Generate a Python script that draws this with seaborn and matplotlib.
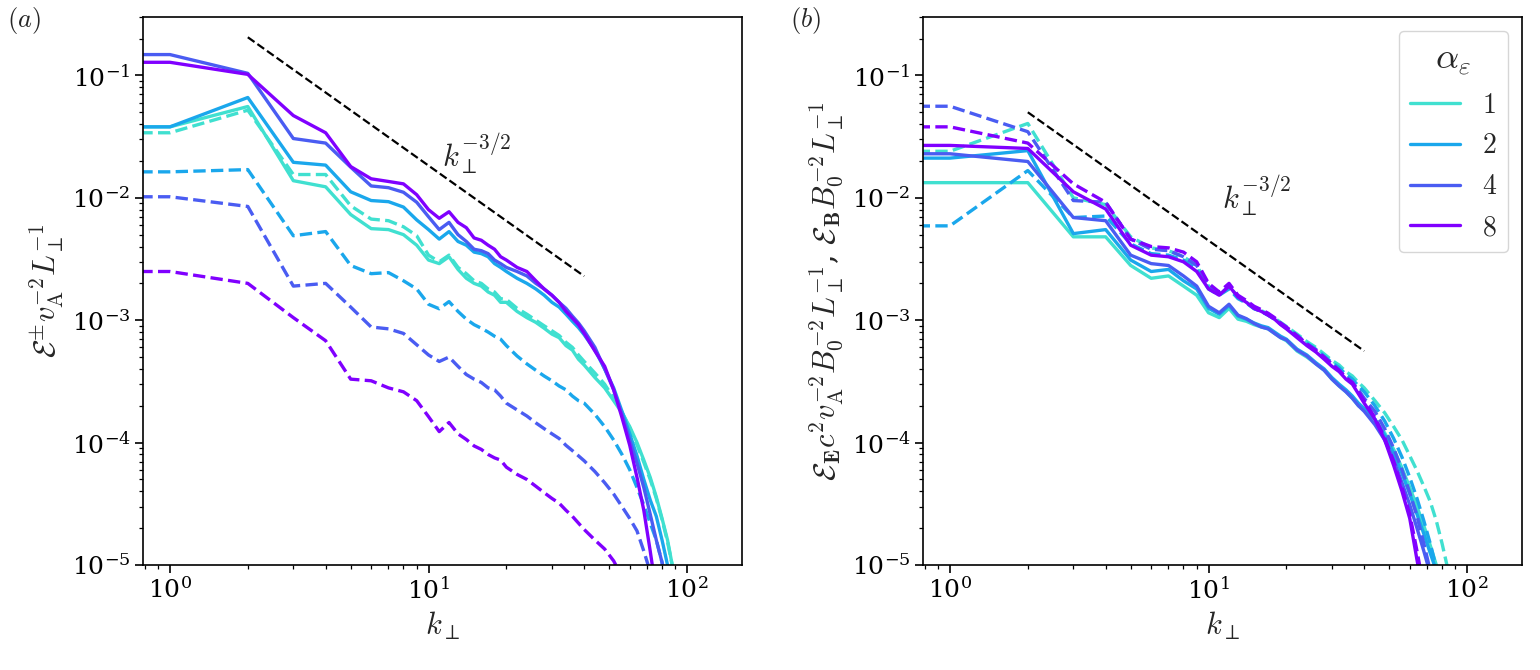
import numpy as np
import pandas as pd
import matplotlib
matplotlib.use('Agg')
import matplotlib.pyplot as plt
import seaborn as sns
from matplotlib.lines import Line2D

# wavenumber grid (k=0 entry reproduces the flat run to the left edge)
k = [0, 1, 2, 3, 4, 5, 6, 7, 8, 9, 10, 11, 12, 13, 14, 15, 16, 17, 18, 19, 20,
     22, 24, 26, 28, 30, 32, 34, 36, 38, 40,
     44, 48, 52, 56, 60, 64, 68, 72, 76, 80, 84, 88, 92]

alphas = ['1', '2', '4', '8']
colors = {'1': '#40e0d0', '2': '#1aa7ec', '4': '#4a5cf2', '8': '#8000ff'}

# (a) solid: E^+ ; dashed: E^-
a_solid_1 = [0.038, 0.038, 0.0557, 0.0138, 0.0123, 0.0073, 0.0056, 0.0055, 0.0050, 0.0041, 0.0031,
             0.0029, 0.0033, 0.0026, 0.0022, 0.0020, 0.0019, 0.0017, 0.0016, 0.0014, 0.0014,
             0.00118, 0.00105, 0.00096, 0.00086, 0.00077, 0.00072, 0.00062, 0.00057, 0.00048, 0.00043,
             0.00034, 0.00028, 0.00022, 0.000175, 0.000135, 0.0001, 7.2e-5, 5.2e-5, 3.6e-5, 2.4e-5,
             1.6e-5, 9.5e-6, 5.5e-6]
a_solid_2 = [0.038, 0.038, 0.066, 0.0195, 0.0185, 0.0112, 0.0095, 0.0093, 0.0084, 0.0066, 0.0055,
             0.0046, 0.0053, 0.0044, 0.0041, 0.0036, 0.0035, 0.0033, 0.0029, 0.0027, 0.0025,
             0.0022, 0.0020, 0.0018, 0.0016, 0.0014, 0.00128, 0.00112, 0.00098, 0.00087, 0.00076,
             0.00057, 0.00040, 0.00028, 0.00018, 0.000118, 7.8e-5, 5.0e-5, 3.4e-5, 2.5e-5, 1.6e-5,
             1.0e-5, 5.5e-6, 2.5e-6]
a_solid_4 = [0.148, 0.148, 0.104, 0.0305, 0.028, 0.0178, 0.0125, 0.0121, 0.0111, 0.0092, 0.0070,
             0.0055, 0.0063, 0.0050, 0.0044, 0.0038, 0.0037, 0.0035, 0.0031, 0.0029, 0.0027,
             0.0025, 0.0023, 0.0020, 0.0018, 0.0016, 0.0014, 0.00125, 0.00108, 0.00095, 0.00082,
             0.00060, 0.00040, 0.00027, 0.00017, 0.000105, 6.8e-5, 4.3e-5, 2.6e-5, 1.6e-5, 1.05e-5,
             6e-6, 3e-6, 1.2e-6]
a_solid_8 = [0.128, 0.128, 0.102, 0.047, 0.034, 0.018, 0.0143, 0.0136, 0.0130, 0.0106, 0.0080,
             0.0068, 0.0077, 0.0063, 0.0057, 0.0047, 0.0045, 0.0041, 0.0038, 0.0033, 0.0031,
             0.0027, 0.0025, 0.0021, 0.0018, 0.0016, 0.0014, 0.00118, 0.00104, 0.00092, 0.00078,
             0.00056, 0.00042, 0.00027, 0.00016, 9.5e-5, 5.2e-5, 2.8e-5, 1.3e-5, 6e-6, 2.5e-6,
             1e-6, 4e-7, 1.5e-7]
a_dash_1 = [0.034, 0.034, 0.052, 0.0155, 0.0155, 0.0086, 0.0067, 0.0065, 0.0058, 0.0049, 0.0034,
            0.0030, 0.0034, 0.0027, 0.0024, 0.0021, 0.0020, 0.0018, 0.0017, 0.0015, 0.00148,
            0.00125, 0.00112, 0.00100, 0.00090, 0.00082, 0.00075, 0.00066, 0.00060, 0.00052, 0.00046,
            0.00037, 0.00030, 0.00023, 0.000178, 0.000132, 9.6e-5, 6.9e-5, 5.0e-5, 3.5e-5, 2.35e-5,
            1.55e-5, 9.5e-6, 5.5e-6]
a_dash_2 = [0.0163, 0.0163, 0.0170, 0.0049, 0.0053, 0.0028, 0.0024, 0.00245, 0.0021, 0.0018, 0.00135,
            0.00124, 0.00142, 0.00118, 0.00102, 0.00092, 0.00086, 0.00080, 0.00074, 0.00070, 0.00062,
            0.00051, 0.00044, 0.00039, 0.00035, 0.00032, 0.00029, 0.00027, 0.00024, 0.00022, 0.00021,
            0.00017, 0.000135, 0.000105, 8.0e-5, 6.0e-5, 4.3e-5, 3.1e-5, 2.2e-5, 1.6e-5, 1.05e-5,
            6.5e-6, 4e-6, 2e-6]
a_dash_4 = [0.0102, 0.0102, 0.0085, 0.0019, 0.0020, 0.00128, 0.00088, 0.00085, 0.00078, 0.00063, 0.00052,
            0.00046, 0.00050, 0.00042, 0.00036, 0.00033, 0.00031, 0.00028, 0.00027, 0.00024, 0.00021,
            0.000185, 0.000165, 0.000145, 0.00013, 0.000118, 0.000108, 9.5e-5, 8.6e-5, 7.8e-5, 7.1e-5,
            5.8e-5, 4.7e-5, 3.8e-5, 3.0e-5, 2.4e-5, 1.9e-5, 1.3e-5, 8.8e-6, 5.5e-6, 3.5e-6,
            2e-6, 1.1e-6, 6e-7]
a_dash_8 = [0.0025, 0.0025, 0.0020, 0.00105, 0.00068, 0.00033, 0.00032, 0.00028, 0.00026, 0.00022, 0.000163,
            0.000123, 0.000146, 0.000118, 0.000106, 9.4e-5, 8.8e-5, 8.0e-5, 7.5e-5, 7.2e-5, 6.3e-5,
            5.5e-5, 5.0e-5, 4.4e-5, 3.9e-5, 3.5e-5, 3.2e-5, 2.8e-5, 2.5e-5, 2.2e-5, 1.95e-5,
            1.6e-5, 1.35e-5, 1.08e-5, 8.0e-6, 5.8e-6, 4e-6, 2.7e-6, 1.8e-6, 1.2e-6, 8e-7,
            5e-7, 3e-7, 2e-7]

# (b) solid: E_E ; dashed: E_B
b_solid_1 = [0.0133, 0.0133, 0.0133, 0.0048, 0.0048, 0.0028, 0.0022, 0.0023, 0.0019, 0.0016, 0.00115,
             0.00105, 0.00125, 0.00102, 0.00098, 0.00092, 0.00088, 0.00085, 0.00078, 0.00072, 0.00068,
             0.00056, 0.00050, 0.00044, 0.00039, 0.00033, 0.00029, 0.00026, 0.00023, 0.00020, 0.000185,
             0.000155, 0.00012, 8.8e-5, 6.2e-5, 4.3e-5, 3.0e-5, 2.1e-5, 1.45e-5, 1.0e-5, 6.5e-6,
             4e-6, 2.5e-6, 1.5e-6]
b_solid_2 = [0.0211, 0.0211, 0.0243, 0.0051, 0.0055, 0.0031, 0.0025, 0.0026, 0.0021, 0.0018, 0.00125,
             0.00112, 0.00132, 0.00108, 0.00102, 0.00095, 0.00090, 0.00087, 0.00080, 0.00074, 0.00070,
             0.00058, 0.00052, 0.00045, 0.00040, 0.00034, 0.00030, 0.00027, 0.00024, 0.00021, 0.00019,
             0.000155, 0.000115, 8.2e-5, 5.6e-5, 3.8e-5, 2.6e-5, 1.8e-5, 1.25e-5, 9e-6, 6e-6,
             4e-6, 2.5e-6, 1.5e-6]
b_solid_4 = [0.0229, 0.0229, 0.0198, 0.0069, 0.0065, 0.0034, 0.0029, 0.0028, 0.0023, 0.0019, 0.0013,
             0.00115, 0.00135, 0.0011, 0.00103, 0.00094, 0.00088, 0.00085, 0.00078, 0.00072, 0.00069,
             0.00057, 0.00051, 0.00044, 0.00039, 0.00033, 0.00029, 0.00026, 0.00023, 0.00020, 0.00018,
             0.00014, 0.000105, 7.2e-5, 4.7e-5, 3.1e-5, 2.0e-5, 1.3e-5, 8.5e-6, 5.5e-6, 3.5e-6,
             2.2e-6, 1.4e-6, 9e-7]
b_solid_8 = [0.0268, 0.0268, 0.0253, 0.0112, 0.0081, 0.0041, 0.0034, 0.0033, 0.0030, 0.0025, 0.0018,
             0.0016, 0.0019, 0.00155, 0.0014, 0.00125, 0.00118, 0.0011, 0.00102, 0.00092, 0.00085,
             0.00072, 0.00062, 0.00055, 0.00048, 0.00042, 0.00038, 0.00033, 0.00030, 0.00025, 0.00021,
             0.000155, 0.000105, 6.5e-5, 4.0e-5, 2.4e-5, 1.1e-5, 5.5e-6, 2.8e-6, 1.4e-6, 7e-7,
             3.5e-7, 1.8e-7, 1e-7]
b_dash_1 = [0.024, 0.024, 0.0405, 0.0100, 0.0088, 0.0048, 0.0039, 0.0037, 0.0033, 0.0028, 0.0019,
            0.0016, 0.0019, 0.00155, 0.0014, 0.00126, 0.0012, 0.00112, 0.00104, 0.00096, 0.00089,
            0.00077, 0.00067, 0.00060, 0.00053, 0.00047, 0.00043, 0.00038, 0.00035, 0.00031, 0.00028,
            0.00022, 0.000175, 0.000135, 0.000105, 7.8e-5, 5.9e-5, 4.4e-5, 3.3e-5, 2.3e-5, 1.5e-5,
            9.5e-6, 6e-6, 3.5e-6]
b_dash_2 = [0.0059, 0.0059, 0.0167, 0.0069, 0.0071, 0.0042, 0.0035, 0.0034, 0.0031, 0.0026, 0.0018,
            0.0016, 0.0018, 0.0015, 0.00138, 0.00124, 0.00118, 0.0011, 0.00102, 0.00094, 0.00087,
            0.00075, 0.00065, 0.00058, 0.00051, 0.00045, 0.00041, 0.00036, 0.00033, 0.00029, 0.00026,
            0.00020, 0.00015, 0.000108, 7.6e-5, 5.2e-5, 3.5e-5, 2.3e-5, 1.5e-5, 9.5e-6, 6e-6,
            3.8e-6, 2.3e-6, 1.4e-6]
b_dash_4 = [0.056, 0.056, 0.0347, 0.0095, 0.0092, 0.0046, 0.0038, 0.0037, 0.0033, 0.0028, 0.0019,
            0.0016, 0.0019, 0.00155, 0.0014, 0.00125, 0.00118, 0.0011, 0.00102, 0.00093, 0.00086,
            0.00074, 0.00063, 0.00056, 0.00049, 0.00043, 0.00039, 0.00034, 0.00031, 0.00027, 0.00023,
            0.00018, 0.00013, 9.0e-5, 6.0e-5, 3.9e-5, 2.5e-5, 1.5e-5, 9e-6, 5.5e-6, 3.3e-6,
            2e-6, 1.2e-6, 7e-7]
b_dash_8 = [0.038, 0.038, 0.028, 0.013, 0.0092, 0.0046, 0.0040, 0.0039, 0.0036, 0.0030, 0.0020,
            0.0017, 0.0020, 0.0016, 0.00145, 0.0013, 0.00122, 0.00114, 0.00105, 0.00095, 0.00088,
            0.00075, 0.00064, 0.00057, 0.00050, 0.00044, 0.00039, 0.00034, 0.00031, 0.00026, 0.00022,
            0.00016, 0.00011, 7.0e-5, 4.3e-5, 2.6e-5, 1.3e-5, 6.5e-6, 3.3e-6, 1.7e-6, 8.5e-7,
            4e-7, 2e-7, 1e-7]

# k_perp^{-3/2} guide lines
ref_k = [2, 40]
ref_a = [0.205, 2.29e-3]
ref_b = [0.050, 5.6e-4]


def long_frame(solid, dashed):
    parts = []
    for a, vals in zip(alphas, solid):
        parts.append(pd.DataFrame({'k': k, 'E': vals, 'alpha': a, 'kind': 'solid'}))
    for a, vals in zip(alphas, dashed):
        parts.append(pd.DataFrame({'k': k, 'E': vals, 'alpha': a, 'kind': 'dashed'}))
    return pd.concat(parts, ignore_index=True)


df_a = long_frame([a_solid_1, a_solid_2, a_solid_4, a_solid_8],
                  [a_dash_1, a_dash_2, a_dash_4, a_dash_8])
df_b = long_frame([b_solid_1, b_solid_2, b_solid_4, b_solid_8],
                  [b_dash_1, b_dash_2, b_dash_4, b_dash_8])

sns.set_style('ticks')
plt.rcParams['font.family'] = ['DejaVu Serif']
plt.rcParams['mathtext.fontset'] = 'cm'
plt.rcParams['axes.linewidth'] = 1.2
plt.rcParams['axes.edgecolor'] = 'black'
for ax_name in ['xtick', 'ytick']:
    plt.rcParams[ax_name + '.major.size'] = 5.5
    plt.rcParams[ax_name + '.minor.size'] = 3
    plt.rcParams[ax_name + '.major.width'] = 1.2
    plt.rcParams[ax_name + '.minor.width'] = 0.9
    plt.rcParams[ax_name + '.labelsize'] = 18
    plt.rcParams[ax_name + '.color'] = 'black'

fig = plt.figure(figsize=(15.4, 6.7), dpi=100)
ax1 = fig.add_axes([0.0929, 0.1567, 0.3889, 0.8179])
ax2 = fig.add_axes([0.5994, 0.1567, 0.3889, 0.8179])

for ax, df, ref in [(ax1, df_a, ref_a), (ax2, df_b, ref_b)]:
    sns.lineplot(data=df, x='k', y='E', hue='alpha', style='kind',
                 hue_order=alphas, style_order=['solid', 'dashed'],
                 palette=colors, dashes={'solid': '', 'dashed': (3.7, 1.6)},
                 linewidth=2.4, estimator=None, sort=False, legend=False, ax=ax)
    sns.lineplot(x=ref_k, y=ref, color='black', linewidth=1.6, linestyle='--', ax=ax)
    ax.set_xscale('log')
    ax.set_yscale('log')
    ax.set_xlim(0.787, 163)
    ax.set_ylim(1e-5, 0.3)
    ax.set_xlabel(r'$k_\perp$', fontsize=22)
    ax.text(15.4, 0.023 if ax is ax1 else 0.0105, r'$k_\perp^{-3/2}$', fontsize=22,
            ha='center', va='center')

ax1.set_ylabel(r'$\mathcal{E}^{\pm} v_{\rm A}^{-2} L_\perp^{-1}$', fontsize=22)
ax2.set_ylabel(r'$\mathcal{E}_{\bf E} c^2 v_{\rm A}^{-2} B_0^{-2} L_\perp^{-1}$, '
               r'$\mathcal{E}_{\bf B} B_0^{-2} L_\perp^{-1}$', fontsize=22)

handles = [Line2D([0], [0], color=colors[a], lw=2.4) for a in alphas]
leg = ax2.legend(handles, ['$' + a + '$' for a in alphas], title=r'$\alpha_\varepsilon$',
                 loc='upper right', fontsize=20, title_fontsize=26, frameon=True,
                 fancybox=True, edgecolor='0.8', framealpha=0.8, handlelength=1.8)

fig.text(0.0156, 0.970, r'$(a)$', fontsize=19, ha='center', va='center')
fig.text(0.523, 0.970, r'$(b)$', fontsize=19, ha='center', va='center')

fig.savefig('out.png', dpi=100)
